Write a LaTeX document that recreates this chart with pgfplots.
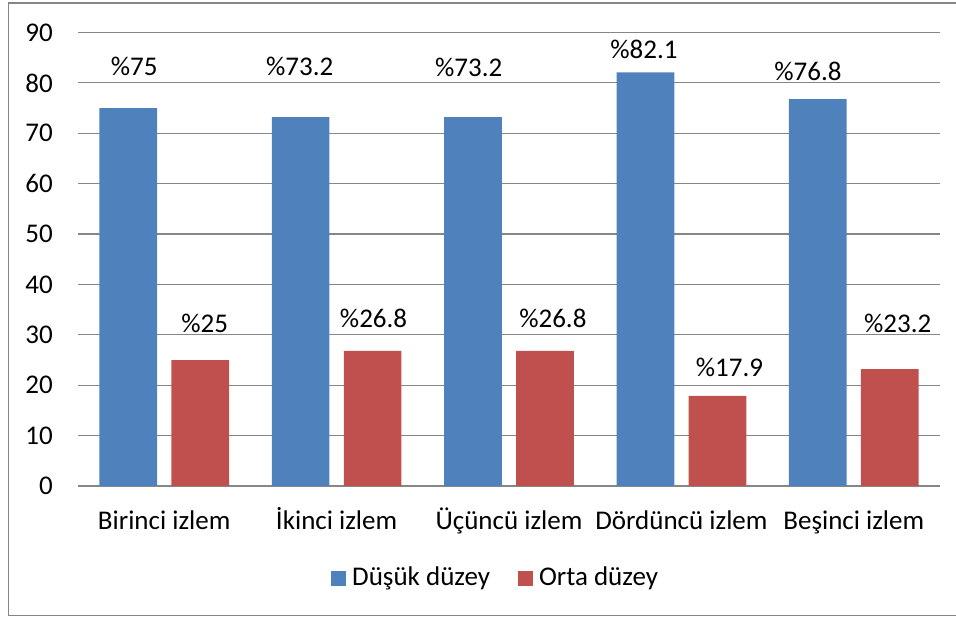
\documentclass[border=0pt]{standalone}
\usepackage{pgfplots}
\pgfplotsset{compat=1.18}
\usepackage{fontspec}
\setmainfont{Carlito}
\definecolor{cblue}{HTML}{4F81BD}
\definecolor{cred}{HTML}{C0504D}
\definecolor{cgrid}{RGB}{134,134,134}
\newcommand{\cf}{\fontsize{27bp}{32bp}\selectfont}
\begin{document}
\cf
\begin{tikzpicture}[x=1bp,y=1bp]
\path[use as bounding box] (0,0) rectangle (956,617);
\draw[cgrid, line width=1.2bp] (8.5,1.5) rectangle (975,614);
\begin{axis}[
  at={(78bp,131bp)}, anchor=south west,
  width=862bp, height=453.5bp, scale only axis,
  xmin=-0.5, xmax=4.5, ymin=0, ymax=90,
  ytick={0,10,...,90},
  xtick={0,1,2,3,4},
  xticklabels={Birinci izlem,İkinci izlem,Üçüncü izlem,Dördüncü izlem,Beşinci izlem},
  axis line style={draw=none},
  major tick length=0pt,
  ymajorgrids=true,
  grid style={cgrid, line width=1.2bp},
  /pgf/number format/assume math mode=true,
  tick label style={font=\cf},
  yticklabel style={anchor=east, inner sep=0pt, xshift=-25bp},
  xticklabel style={anchor=base, inner sep=0pt, yshift=-44bp},
  legend columns=2,
  legend style={at={(0.2935,-0.2042)}, anchor=west, draw=none, fill=none,
    inner sep=0pt, font=\cf,
    nodes={inner sep=0pt},
    /tikz/every odd column/.append style={column sep=6bp},
    /tikz/every even column/.append style={column sep=28bp}},
  legend image code/.code={\fill[#1] (0bp,-7.5bp) rectangle (15bp,7.5bp);},
]
\addplot[ybar, bar width=57.7bp, bar shift=-36bp, fill=cblue, draw=none]
  coordinates {(0,75) (1,73.2) (2,73.2) (3,82.1) (4,76.8)};
\addlegendentry{Düşük düzey}
\addplot[ybar, bar width=57.7bp, bar shift=36bp, fill=cred, draw=none]
  coordinates {(0,25) (1,26.8) (2,26.8) (3,17.9) (4,23.2)};
\addlegendentry{Orta düzey}
\addplot[draw=none, mark=none, forget plot,
  nodes near coords={\%\pgfplotspointmeta},
  point meta=explicit symbolic,
  nodes near coords style={anchor=center, inner sep=0pt, font=\cf}]
  table[meta=lab] {
x y lab
-0.174 83.25 75
0.786 83.25 73.2
1.766 83.1 73.2
2.783 86.6 82.1
3.734 82.3 76.8
0.2345 32.2 25
1.2145 33.2 26.8
2.2545 33.2 26.8
3.2785 23.6 17.9
4.2545 32.2 23.2
};
\end{axis}
\end{tikzpicture}
\end{document}
